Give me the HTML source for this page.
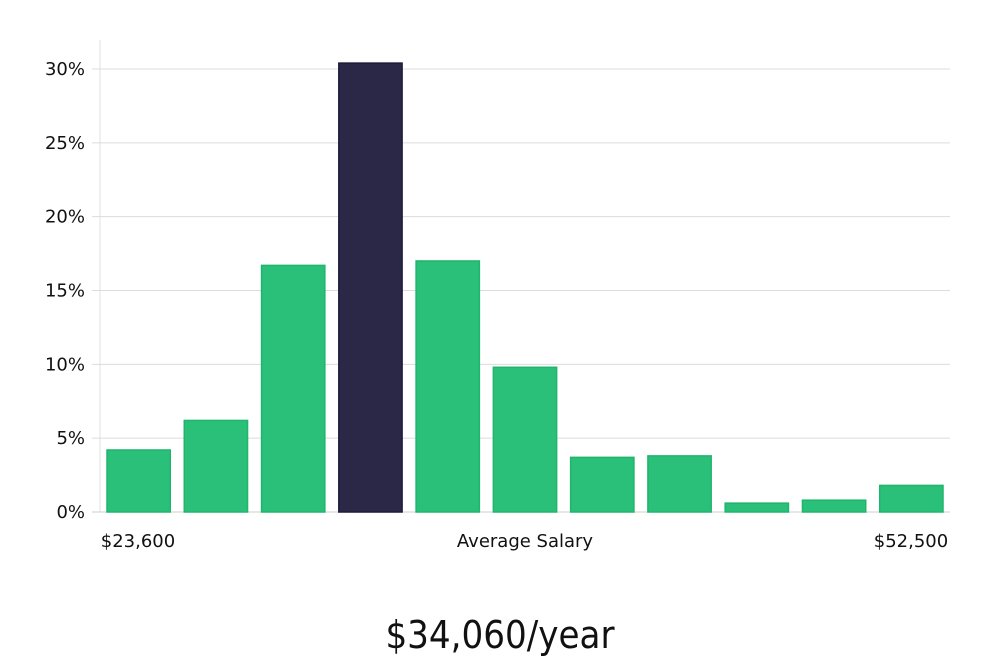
<!DOCTYPE html>
<html><head><meta charset="utf-8"><style>
html,body{margin:0;padding:0;background:#fff;}
svg{display:block;font-family:"DejaVu Sans","Liberation Sans",sans-serif;}
</style></head><body>
<svg id="chart" width="1000" height="660" viewBox="0 0 1000 660">
<g id="grid"></g>
<g id="yticks"></g>
<g id="bars"></g>
<text x="138" y="547" font-size="18" text-anchor="middle" fill="#111">$23,600</text>
<text x="525" y="547" font-size="18" text-anchor="middle" fill="#111">Average Salary</text>
<text x="911" y="547" font-size="18" text-anchor="middle" fill="#111">$52,500</text>
<text x="500" y="648" font-size="38" text-anchor="middle" fill="#111" font-family="'DejaVu Sans Condensed','Liberation Sans Narrow','DejaVu Sans',sans-serif" font-weight="300">$34,060/year</text>
</svg>
<script>
const categories = ["b1","b2","b3","b4","b5","b6","b7","b8","b9","b10","b11"];
const values = [4.2, 6.2, 16.7, 30.4, 17.0, 9.8, 3.7, 3.8, 0.6, 0.8, 1.8];
const highlightIndex = 3;
const yTicks = [0, 5, 10, 15, 20, 25, 30];
const yTickLabels = ["0%","5%","10%","15%","20%","25%","30%"];

const NS = "http://www.w3.org/2000/svg";
const x0 = 100, x1 = 950, yBase = 512, yTop = 69, yMaxVal = 30;
function yScale(v){ return yBase - (v / yMaxVal) * (yBase - yTop); }
const band = (x1 - x0) / categories.length;
function xScale(i){ return x0 + i * band; }

const grid = document.getElementById('grid');
const yt = document.getElementById('yticks');
const axis = document.createElementNS(NS,'line');
axis.setAttribute('x1', x0); axis.setAttribute('x2', x0);
axis.setAttribute('y1', 40); axis.setAttribute('y2', yBase);
axis.setAttribute('stroke', '#e0e0e0');


grid.appendChild(axis);
yTicks.forEach((t, i) => {
  const y = yScale(t);
  const l = document.createElementNS(NS,'line');
  l.setAttribute('x1', x0 - 8); l.setAttribute('x2', x1);
  l.setAttribute('y1', y); l.setAttribute('y2', y);
  l.setAttribute('stroke', t === 0 ? '#cfcfcf' : '#dcdcdc');
  
  
  grid.appendChild(l);
  const tx = document.createElementNS(NS,'text');
  tx.setAttribute('x', 85); tx.setAttribute('y', y + 6);
  tx.setAttribute('font-size', '18'); tx.setAttribute('text-anchor', 'end');
  tx.setAttribute('fill', '#111');
  tx.textContent = yTickLabels[i];
  
  
  yt.appendChild(tx);
});

const bars = document.getElementById('bars');
const pad = 7;
values.forEach((v, i) => {
  const r = document.createElementNS(NS,'rect');
  const y = yScale(v);
  r.setAttribute('x', xScale(i) + pad);
  r.setAttribute('y', y);
  r.setAttribute('width', band - 2 * pad);
  r.setAttribute('height', yBase - y);
  const hl = i === highlightIndex;
  r.setAttribute('fill', hl ? '#2a2747' : '#2bc079');
  r.setAttribute('stroke', hl ? '#1c1a3a' : '#1fb56c');
  r.setAttribute('stroke-width', '1.5');
  
  
  bars.appendChild(r);
});
</script>
</body></html>
